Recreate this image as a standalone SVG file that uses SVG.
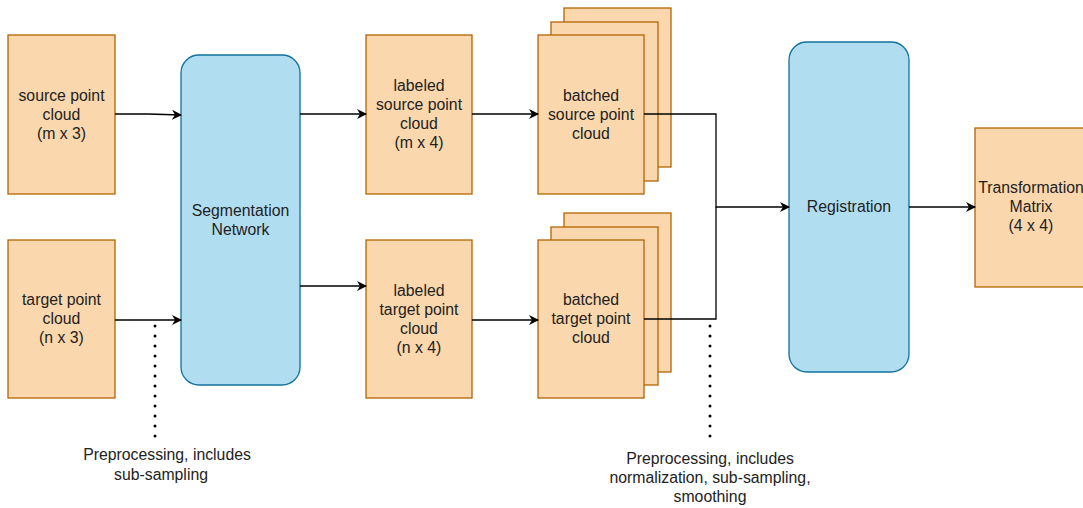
<svg xmlns="http://www.w3.org/2000/svg" width="1083" height="508" viewBox="0 0 1083 508">
<style>
.o{fill:#fad7ac;stroke:#b46504;stroke-width:1.3}
.b{fill:#b1ddf0;stroke:#10739e;stroke-width:1.3}
text{font-family:"Liberation Sans",Arial,sans-serif;font-size:15.8px;fill:#222;text-anchor:middle}
.c{fill:none;stroke:#000;stroke-width:1.3}
.d{fill:none;stroke:#000;stroke-width:3;stroke-dasharray:0 10;stroke-linecap:round}
</style>
<defs>
<marker id="a" viewBox="0 0 10 10" refX="9" refY="5" markerWidth="10" markerHeight="10" markerUnits="userSpaceOnUse" orient="auto">
<path d="M0,0 L10,5 L0,10 L3,5 Z" fill="#000"/>
</marker>
</defs>
<rect width="1083" height="508" fill="#fff"/>
<g id="source"><rect class="o" x="8" y="35" width="107" height="159"/><text x="61.5" y="101">source point</text><text x="61.5" y="120">cloud</text><text x="61.5" y="139">(m x 3)</text></g>
<g id="target"><rect class="o" x="8" y="240" width="107" height="158"/><text x="61.5" y="305">target point</text><text x="61.5" y="324">cloud</text><text x="61.5" y="343">(n x 3)</text></g>
<g id="seg"><rect class="b" x="181" y="55" width="119" height="330" rx="18"/><text x="240.5" y="216">Segmentation</text><text x="240.5" y="235">Network</text></g>
<g id="lsource"><rect class="o" x="366" y="35" width="106" height="159"/><text x="419" y="91">labeled</text><text x="419" y="110">source point</text><text x="419" y="129">cloud</text><text x="419" y="148">(m x 4)</text></g>
<g id="ltarget"><rect class="o" x="366" y="240" width="106" height="158"/><text x="419" y="296">labeled</text><text x="419" y="315">target point</text><text x="419" y="334">cloud</text><text x="419" y="353">(n x 4)</text></g>
<g id="bsource"><rect class="o" x="564" y="8" width="107" height="159"/><rect class="o" x="551" y="22" width="107" height="159"/><rect class="o" x="538" y="35" width="106" height="159"/><text x="591" y="101">batched</text><text x="591" y="120">source point</text><text x="591" y="139">cloud</text></g>
<g id="btarget"><rect class="o" x="564" y="213" width="107" height="159"/><rect class="o" x="551" y="227" width="107" height="158"/><rect class="o" x="538" y="240" width="106" height="158"/><text x="591" y="305">batched</text><text x="591" y="324">target point</text><text x="591" y="343">cloud</text></g>
<g id="reg"><rect class="b" x="789" y="42" width="120" height="330" rx="18"/><text x="849" y="212">Registration</text></g>
<g id="tm"><rect class="o" x="975" y="128" width="112" height="159"/><text x="1031" y="193">Transformation</text><text x="1031" y="212">Matrix</text><text x="1031" y="231">(4 x 4)</text></g>
<g id="connectors">
<path class="c" d="M115,114 L148,114 L181,115" marker-end="url(#a)"/>
<path class="c" d="M115,320 L181,320" marker-end="url(#a)"/>
<path class="c" d="M300,114 L366,114" marker-end="url(#a)"/>
<path class="c" d="M300,286 L366,286" marker-end="url(#a)"/>
<path class="c" d="M472,114 L538,114" marker-end="url(#a)"/>
<path class="c" d="M472,320 L538,320" marker-end="url(#a)"/>
<path class="c" d="M644,114 L716,114 L716,207 L789,207" marker-end="url(#a)"/>
<path class="c" d="M644,319 L716,319 L716,207"/>
<path class="c" d="M909,207 L975,207" marker-end="url(#a)"/>
<path class="d" d="M155,326 L155,445"/>
<path class="d" d="M710,326 L710,445"/>
</g>
<g id="notes">
<text x="167" y="460">Preprocessing, includes</text><text x="161" y="480">sub-sampling</text>
<text x="710" y="464">Preprocessing, includes</text><text x="710" y="483">normalization, sub-sampling,</text><text x="710" y="502">smoothing</text>
</g>
</svg>
